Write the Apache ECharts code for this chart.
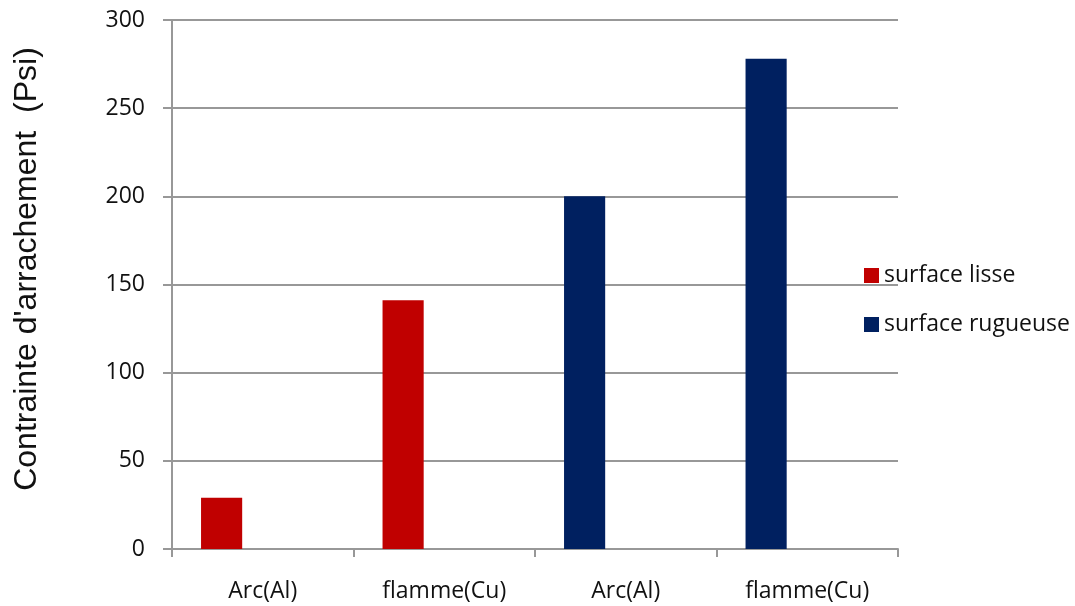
<!DOCTYPE html>
<html>
<head>
<meta charset="utf-8">
<script src="https://cdn.jsdelivr.net/npm/echarts@6/dist/echarts.min.js"></script>
<style>
  html, body { margin: 0; padding: 0; background: #fff; }
  #chart { width: 1075px; height: 606px; }
</style>
</head>
<body>
<div id="chart"></div>
<script>
// Pull-off stress by spraying process and surface preparation
const categories = ['Arc(Al)', 'flamme(Cu)', 'Arc(Al)', 'flamme(Cu)'];
const smoothSurface = [29, 141, null, null];
const roughSurface = [null, null, 200, 278];
const yTicks = { min: 0, max: 300, interval: 50 };
const yAxisTitle = "Contrainte d'arrachement  (Psi)";

const gray = '#989898';
const labelFont = '"Open Sans", Lato, sans-serif';

const chart = echarts.init(document.getElementById('chart'), null, { renderer: 'canvas' });
chart.setOption({
  animation: false,
  backgroundColor: '#fff',
  grid: { left: 172, right: 177, top: 20, bottom: 57, containLabel: false },
  legend: {
    orient: 'vertical',
    left: 864,
    top: 264,
    padding: 0,
    itemWidth: 15,
    itemHeight: 15,
    itemGap: 26,
    itemTextGap: 5,
    icon: 'rect',
    data: ['surface lisse', 'surface rugueuse'],
    textStyle: { fontFamily: labelFont, fontSize: 23, color: '#111' }
  },
  xAxis: {
    type: 'category',
    data: categories,
    boundaryGap: true,
    axisLine: { lineStyle: { color: gray, width: 2 } },
    axisTick: { show: true, length: 8, lineStyle: { color: gray, width: 2 } },
    axisLabel: { margin: 31, fontFamily: labelFont, fontSize: 23, color: '#111' }
  },
  yAxis: {
    type: 'value',
    min: yTicks.min,
    max: yTicks.max,
    interval: yTicks.interval,
    name: yAxisTitle,
    nameLocation: 'middle',
    nameGap: 129,
    nameTextStyle: {
      fontFamily: '"Liberation Sans", Arial, sans-serif',
      fontSize: 32,
      color: '#111',
      padding: [0, 0, 0, 31]
    },
    axisLine: { show: true, lineStyle: { color: gray, width: 2 } },
    axisTick: { show: true, length: 9, lineStyle: { color: gray, width: 2 } },
    axisLabel: { margin: 27, fontFamily: labelFont, fontSize: 23, color: '#111' },
    splitLine: { show: true, lineStyle: { color: gray, width: 2 } }
  },
  series: [
    {
      name: 'surface lisse', type: 'bar', stack: 'main',
      data: smoothSurface,
      itemStyle: { color: '#C00000' },
      barGap: '0%', barCategoryGap: '32%'
    },
    {
      name: 'surface rugueuse', type: 'bar', stack: 'main',
      data: roughSurface,
      itemStyle: { color: '#002060' }
    },
    // two empty series keep the bar slots of the original clustered layout
    { name: 'vide1', type: 'bar', data: [], stack: 'e1' },
    { name: 'vide2', type: 'bar', data: [], stack: 'e2' }
  ]
});
</script>
</body>
</html>
